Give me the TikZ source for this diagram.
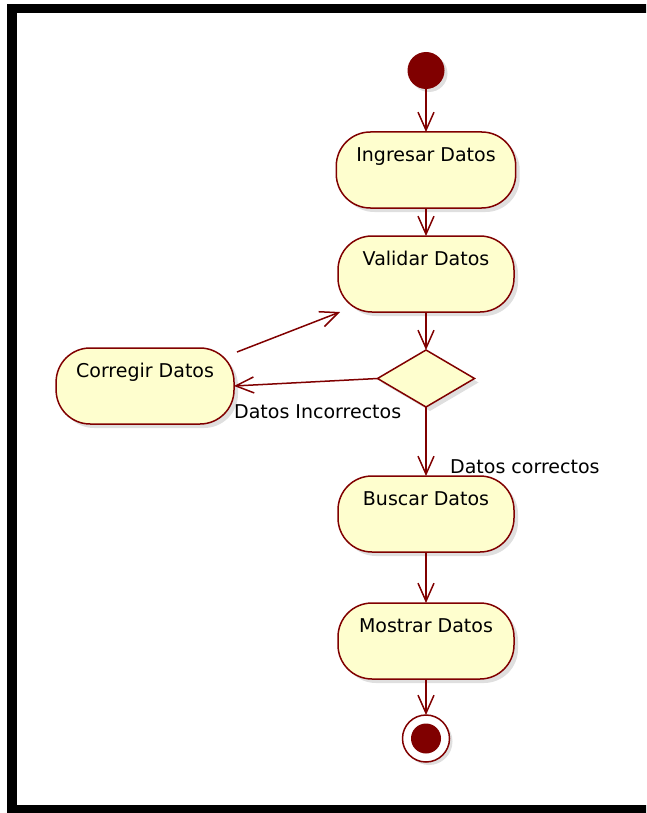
\documentclass[tikz,border=0pt]{standalone}
\usepackage{fontspec}
\setmainfont{DejaVu Sans}
\usepackage{tikz}
\usetikzlibrary{positioning,shapes.geometric,arrows.meta,shadows}
\definecolor{umlred}{RGB}{128,0,0}
\definecolor{umlfill}{RGB}{254,254,206}

\begin{document}
\begin{tikzpicture}[
x=1pt,y=-1pt,
act/.style={
  draw=umlred,
  fill=umlfill,
  line width=1.5pt,
  rounded corners=34pt,
  minimum width=176pt,
  minimum height=76pt,
  inner xsep=20pt,
  inner ysep=8pt,
  outer sep=0pt,
  text height=21pt,
  text depth=39pt,
  font=\fontsize{19}{22}\selectfont,
  drop shadow={shadow xshift=4pt,shadow yshift=-4pt,opacity=0.25}
  },
choice/.style={
  diamond,
  draw=umlred,
  fill=umlfill,
  line width=1.5pt,
  minimum width=97pt,
  minimum height=57pt,
  inner sep=0pt,
  outer sep=0pt,
  drop shadow={shadow xshift=4pt,shadow yshift=-4pt,opacity=0.25}
  },
startdot/.style={
  circle,
  fill=umlred,
  minimum size=37pt,
  inner sep=0pt,
  outer sep=0pt,
  drop shadow={shadow xshift=3pt,shadow yshift=-3pt,opacity=0.25}
  },
stopring/.style={
  circle,
  draw=umlred,
  fill=white,
  line width=1.5pt,
  minimum size=47pt,
  inner sep=0pt,
  outer sep=0pt,
  drop shadow={shadow xshift=3pt,shadow yshift=-3pt,opacity=0.25}
  },
guard/.style={
  font=\fontsize{19}{22}\selectfont,
  inner sep=0pt
  },
flow/.style={
  draw=umlred,
  line width=1.5pt
  },
>={Straight Barb[length=18pt,width=16pt]}
]
\useasboundingbox (0,0) rectangle (646,813);
\begin{scope}
\clip (0,0) rectangle (646,813);
\draw[line width=9.5pt] (12,8.7) rectangle (700,810);
\end{scope}

% main column
\node[act] (ing) at (426,170) {Ingresar Datos};
\node[startdot, above=43pt of ing] (start) {};
\node[act, below=28pt of ing] (val) {Validar Datos};
\node[choice, below=38pt of val] (dia) {};
\node[act, left=143.5pt of dia, yshift=-7.5pt] (corr) {Corregir Datos};
\node[act, below=69pt of dia] (busc) {Buscar Datos};
\node[act, below=51pt of busc] (most) {Mostrar Datos};
\node[stopring, below=36pt of most] (stop) {};
\node[circle, fill=umlred, minimum size=30pt, inner sep=0pt] (stopdot) at (stop) {};

% guards
\node[guard, anchor=base west] (no) at (234,418) {Datos Incorrectos};
\node[guard, anchor=base west] (yes) at (450,473) {Datos correctos};

% flows
\draw[flow,->] (start) -- (ing);
\draw[flow,->] (ing) -- (val);
\draw[flow,->] (val) -- (dia);
\draw[flow,->] (dia.west) -- (corr.east);
\draw[flow,->] ([shift={(3pt,-4pt)}]corr.north east) -- ([xshift=2pt]val.south west);
\draw[flow,->] (dia) -- (busc);
\draw[flow,->] (busc) -- (most);
\draw[flow,->] (most) -- (stop);
\end{tikzpicture}
\end{document}
